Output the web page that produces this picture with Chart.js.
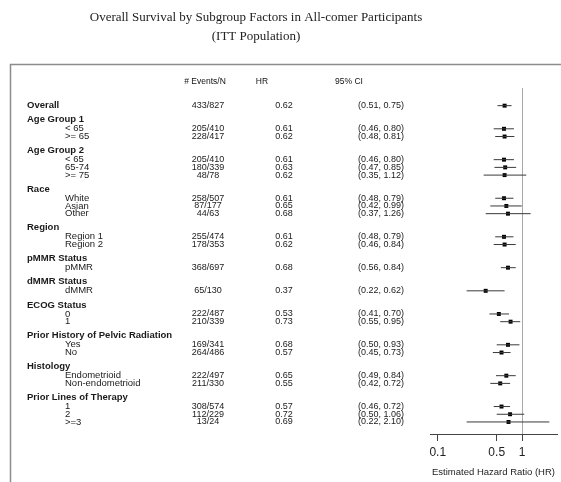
<!DOCTYPE html>
<html>
<head>
<meta charset="utf-8">
<script src="https://cdn.jsdelivr.net/npm/chart.js@4.4.1/dist/chart.umd.min.js"></script>
<style>
    body { margin: 0; background: #fff; }
    canvas { display: block; }
</style>
</head>
<body>
<canvas id="forest" width="561" height="482"></canvas>
<script>
const titleLines = ["Overall Survival by Subgroup Factors in All-comer Participants", "(ITT Population)"];
const columnHeads = ["# Events/N", "HR", "95% CI"];

const groupNames = ["", "Age Group 1", "Age Group 2", "Race", "Region", "pMMR Status", "dMMR Status",
    "ECOG Status", "Prior History of Pelvic Radiation", "Histology", "Prior Lines of Therapy"];
const rowLabels = ["Overall", "< 65", ">= 65", "< 65", "65-74", ">= 75", "White", "Asian", "Other",
    "Region 1", "Region 2", "pMMR", "dMMR", "0", "1", "Yes", "No", "Endometrioid", "Non-endometrioid",
    "1", "2", ">=3"];
const rowGroup = [0, 1, 1, 2, 2, 2, 3, 3, 3, 4, 4, 5, 6, 7, 7, 8, 8, 9, 9, 10, 10, 10];
const events = ["433/827", "205/410", "228/417", "205/410", "180/339", "48/78", "258/507", "87/177", "44/63",
    "255/474", "178/353", "368/697", "65/130", "222/487", "210/339", "169/341", "264/486", "222/497", "211/330",
    "308/574", "112/229", "13/24"];
const hr = [0.62, 0.61, 0.62, 0.61, 0.63, 0.62, 0.61, 0.65, 0.68, 0.61, 0.62, 0.68, 0.37, 0.53, 0.73,
    0.68, 0.57, 0.65, 0.55, 0.57, 0.72, 0.69];
const ciLow = [0.51, 0.46, 0.48, 0.46, 0.47, 0.35, 0.48, 0.42, 0.37, 0.48, 0.46, 0.56, 0.22, 0.41, 0.55,
    0.50, 0.45, 0.49, 0.42, 0.46, 0.50, 0.22];
const ciHigh = [0.75, 0.80, 0.81, 0.80, 0.85, 1.12, 0.79, 0.99, 1.26, 0.79, 0.84, 0.84, 0.62, 0.70, 0.95,
    0.93, 0.73, 0.84, 0.72, 0.72, 1.06, 2.10];
const xTicks = [0.1, 0.5, 1];

// row slots: one per line, two empty slots between groups
const rowPos = [];
let pos = 0;
for (let i = 0; i < rowLabels.length; i++) {
    if (i > 0) pos += (rowGroup[i] !== rowGroup[i - 1]) ? 3 : 1;
    rowPos.push(pos);
}

const ciData = [];
for (let i = 0; i < hr.length; i++) {
    ciData.push({x: ciLow[i], y: rowPos[i]}, {x: ciHigh[i], y: rowPos[i]}, {x: null, y: null});
}

const NARROW = '"Liberation Sans Narrow", "Arial Narrow", "Liberation Sans", sans-serif';

const tablePlugin = {
    id: 'table',
    beforeDatasetsDraw(chart) {
        const ctx = chart.ctx;
        const x = chart.scales.x;
        const area = chart.chartArea;
        const x1 = Math.round(x.getPixelForValue(1)) + 0.5;
        ctx.save();
        ctx.strokeStyle = '#a8a8a8';
        ctx.lineWidth = 1;
        ctx.beginPath();
        ctx.moveTo(x1, area.top);
        ctx.lineTo(x1, area.bottom);
        ctx.stroke();
        ctx.restore();
    },
    afterDraw(chart) {
        const ctx = chart.ctx;
        const y = chart.scales.y;
        ctx.save();

        // frame
        ctx.strokeStyle = '#8c8c8c';
        ctx.lineWidth = 1.5;
        ctx.beginPath();
        ctx.moveTo(10.5, 490);
        ctx.lineTo(10.5, 64.5);
        ctx.lineTo(570, 64.5);
        ctx.stroke();

        // title
        ctx.fillStyle = '#222';
        ctx.textAlign = 'center';
        ctx.textBaseline = 'middle';
        ctx.font = '13px "Liberation Serif", "Times New Roman", serif';
        ctx.fillText(titleLines[0], 256, 18);
        ctx.fillText(titleLines[1], 256, 37);

        // column heads
        ctx.fillStyle = '#111';
        ctx.font = '8.5px ' + NARROW;
        ctx.fillText(columnHeads[0], 205, 82);
        ctx.fillText(columnHeads[1], 262, 82);
        ctx.fillText(columnHeads[2], 349, 82);

        for (let i = 0; i < rowLabels.length; i++) {
            const py = y.getPixelForValue(rowPos[i]);
            ctx.fillStyle = '#1a1a1a';
            if (i > 0 && rowGroup[i] !== rowGroup[i - 1]) {
                ctx.textAlign = 'left';
                ctx.font = 'bold 9.5px ' + NARROW;
                ctx.fillText(groupNames[rowGroup[i]], 27, py - 9);
            }
            ctx.textAlign = 'left';
            if (rowGroup[i] === 0) {
                ctx.font = 'bold 9.5px ' + NARROW;
                ctx.fillText(rowLabels[i], 27, py);
            } else {
                ctx.font = '9.5px ' + NARROW;
                ctx.fillText(rowLabels[i], 65, py);
            }
            ctx.font = '9px ' + NARROW;
            ctx.textAlign = 'center';
            ctx.fillText(events[i], 208, py);
            ctx.fillText(hr[i].toFixed(2), 284, py);
            ctx.fillText('(' + ciLow[i].toFixed(2) + ', ' + ciHigh[i].toFixed(2) + ')', 381, py);
        }
        ctx.restore();
    }
};

new Chart(document.getElementById('forest'), {
    type: 'scatter',
    data: {
        datasets: [{
            data: ciData,
            showLine: true,
            borderColor: '#3a3a3a',
            borderWidth: 1,
            pointRadius: 0,
            spanGaps: false
        }, {
            data: hr.map((v, i) => ({x: v, y: rowPos[i]})),
            pointStyle: 'rect',
            pointRadius: 2.8,
            backgroundColor: '#000',
            borderWidth: 0
        }]
    },
    options: {
        responsive: false,
        animation: false,
        events: [],
        layout: {padding: {left: 430, right: 0, top: 88, bottom: 0}},
        plugins: {
            legend: {display: false},
            tooltip: {enabled: false}
        },
        scales: {
            x: {
                type: 'logarithmic',
                min: 0.081,
                max: 2.59,
                afterBuildTicks: (scale) => {
                    scale.ticks = xTicks.map(v => ({value: v}));
                },
                afterFit: (scale) => {
                    scale.height = 48;
                },
                ticks: {
                    autoSkip: false,
                    maxRotation: 0,
                    padding: 4,
                    color: '#222',
                    font: {family: NARROW, size: 12},
                    callback: (v) => String(v)
                },
                grid: {drawOnChartArea: false, drawTicks: true, tickLength: 7, color: '#444'},
                border: {display: true, color: '#444', width: 1},
                title: {
                    display: true,
                    text: 'Estimated Hazard Ratio (HR)',
                    color: '#222',
                    font: {family: NARROW, size: 9.5},
                    padding: {top: 2, bottom: 4}
                }
            },
            y: {
                type: 'linear',
                display: false,
                reverse: true,
                min: -2.29,
                max: 42.56
            }
        }
    },
    plugins: [tablePlugin]
});
</script>
</body>
</html>
